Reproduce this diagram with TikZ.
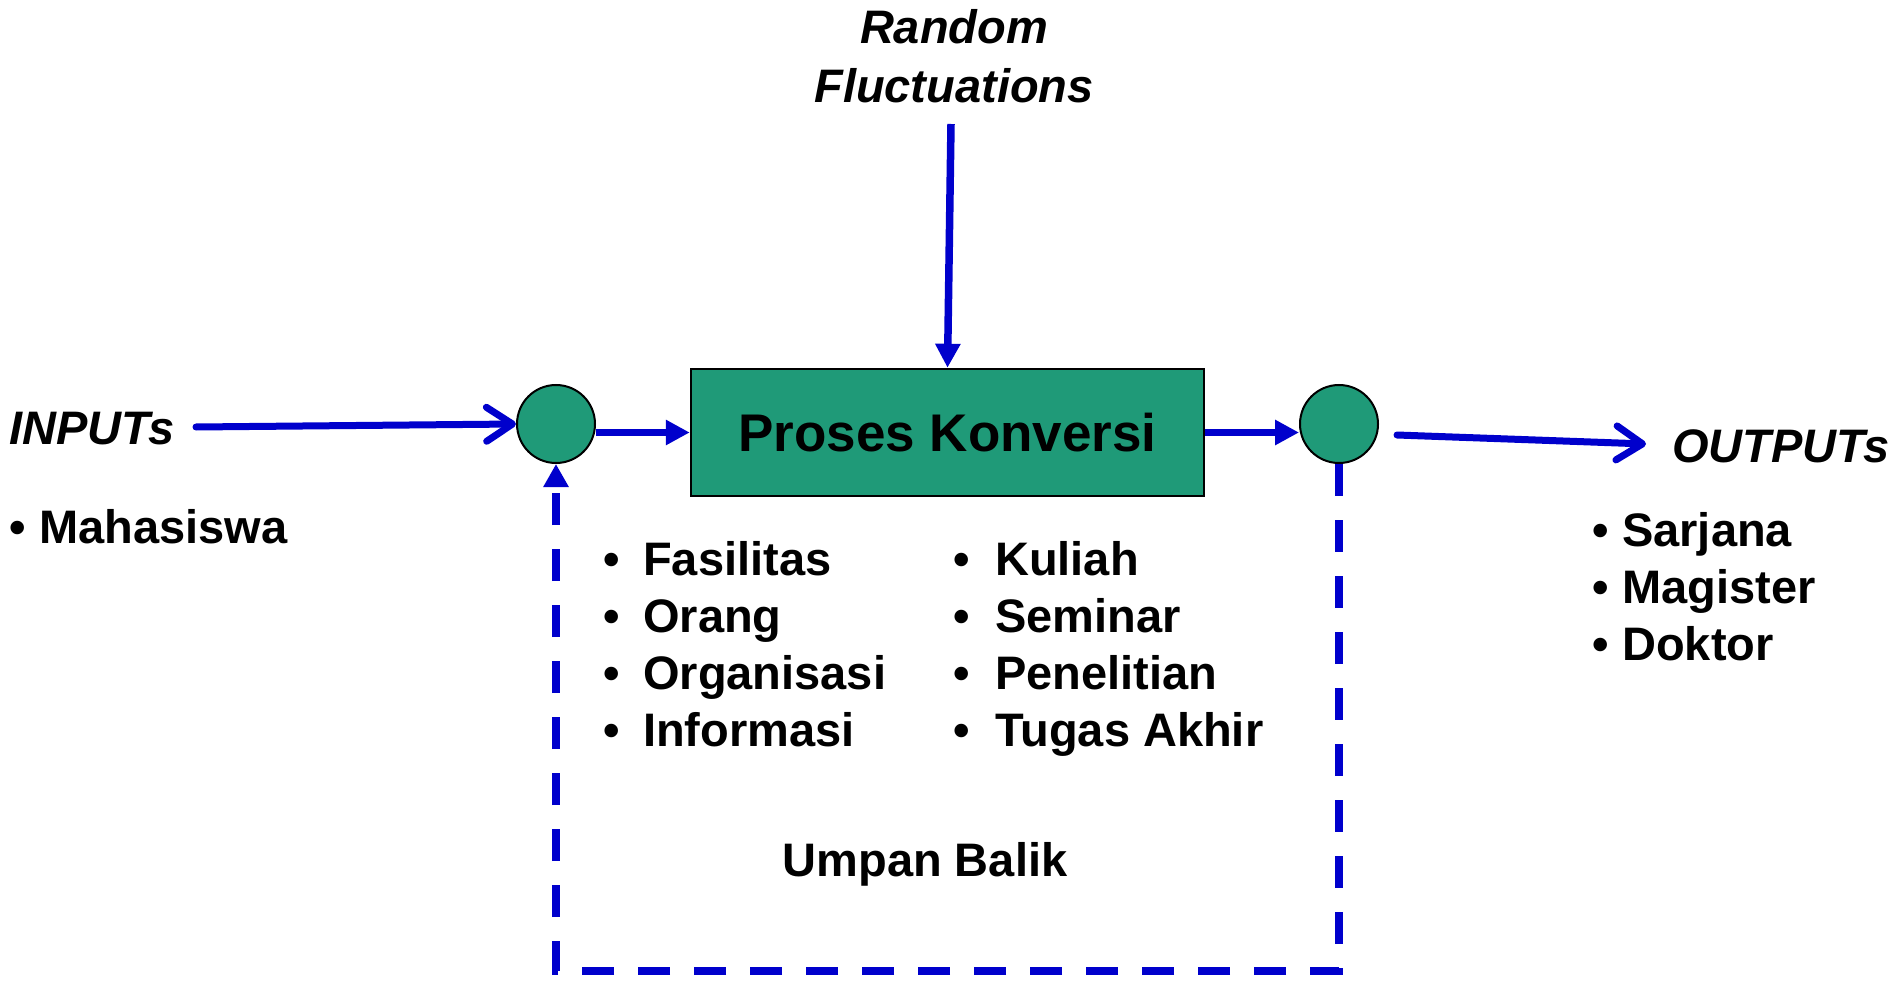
\documentclass[tikz,border=0pt]{standalone}
\usepackage{fontspec}
\setmainfont{Liberation Sans}
\usetikzlibrary{arrows.meta}
\definecolor{flowblue}{RGB}{0,0,204}
\definecolor{procgreen}{RGB}{31,154,120}
\begin{document}
\begin{tikzpicture}[x=1pt,y=-1pt,
  lbl/.style={inner sep=0pt,anchor=base west,font=\bfseries\fontsize{47}{57}\selectfont},
  ilbl/.style={inner sep=0pt,anchor=base,font=\bfseries\itshape\fontsize{47}{57}\selectfont},
  procbox/.style={draw=black,line width=2.5pt,fill=procgreen,minimum width=513pt,minimum height=127pt,inner sep=0pt,
    text height=38pt,text depth=0pt,font=\bfseries\fontsize{53}{60}\selectfont},
  junction/.style={circle,draw=black,line width=2pt,fill=procgreen,minimum size=78pt,inner sep=0pt},
  flow/.style={draw=flowblue,line width=7.5pt,-{Triangle[length=24pt,width=24pt]}},
  openflow/.style={draw=flowblue,line width=7pt,line cap=round,-{Straight Barb[length=26pt,width=34pt,line cap=round,line join=round]}},
  feedback/.style={draw=flowblue,line width=8pt,dash pattern=on 32pt off 24pt,-{Triangle[length=23pt,width=24pt]}}
]
\useasboundingbox (0,0) rectangle (1895,981);

% main nodes
\node[procbox] (proc) at (947.5,432.5) {Proses Konversi};
\node[junction] (cin) at (556,424) {};
\node[junction] (cout) at (1339,424) {};

% free ends
\coordinate (inS) at (196,427);
\coordinate (rfS) at (951,124);
\coordinate (outS) at (1397,435);
\coordinate (outE) at (1646,444);

% labels
\node[ilbl] (rand) at (954,44) {Random};
\node[ilbl] (fluc) at (954,103) {Fluctuations};
\node[ilbl,anchor=base west] (inputs) at (9,444) {INPUTs};
\node[ilbl,anchor=base west] (outputs) at (1672,462) {OUTPUTs};

\node[lbl] (mahab) at (9,543) {\textbullet};
\node[lbl] (maha) at (39,543) {Mahasiswa};

\foreach \t [count=\i] in {Fasilitas,Orang,Organisasi,Informasi}{
  \node[lbl] (lb\i) at (603,{575+57*(\i-1)}) {\textbullet};
  \node[lbl] (lt\i) at (643,{575+57*(\i-1)}) {\t};
}
\foreach \t [count=\i] in {Kuliah,Seminar,Penelitian,Tugas Akhir}{
  \node[lbl] (rb\i) at (953,{575+57*(\i-1)}) {\textbullet};
  \node[lbl] (rt\i) at (995,{575+57*(\i-1)}) {\t};
}
\foreach \t [count=\i] in {Sarjana,Magister,Doktor}{
  \node[lbl] (ob\i) at (1592,{546+57*(\i-1)}) {\textbullet};
  \node[lbl] (ot\i) at (1622,{546+57*(\i-1)}) {\t};
}
\node[lbl,anchor=base] (umpan) at (925,876) {Umpan Balik};

% connectors
\draw[openflow] (inS) -- (cin.west);
\draw[flow] (rfS) -- (proc.north);
\draw[flow] (cin.east |- proc.west) -- (proc.west);
\draw[flow] (proc.east) -- (cout.west |- proc.east);
\draw[openflow] (outS) -- (outE);
\draw[feedback] (cout.south) -- (cout.south |- 0,971) -| (cin.south);
\end{tikzpicture}
\end{document}
